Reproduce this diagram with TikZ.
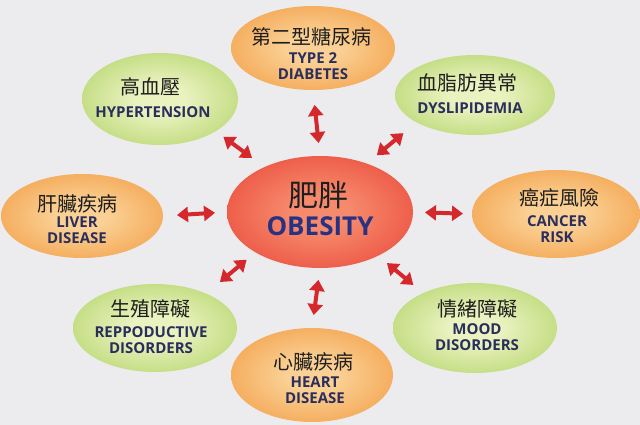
\documentclass[tikz,border=0pt]{standalone}
\usepackage{fontspec}
\newfontfamily\zhfont{Noto Sans CJK TC}
\newfontfamily\enfont{Open Sans}
\usetikzlibrary{arrows.meta,shapes.geometric}
\definecolor{bgcol}{RGB}{236,236,239}
\definecolor{orangein}{RGB}{250,208,148}
\definecolor{orangeout}{RGB}{238,130,26}
\definecolor{greenin}{RGB}{234,242,192}
\definecolor{greenout}{RGB}{148,196,56}
\definecolor{redin}{RGB}{246,138,108}
\definecolor{redout}{RGB}{228,36,28}
\definecolor{navy}{RGB}{42,46,92}
\definecolor{obeblue}{RGB}{40,50,130}
\definecolor{arrowred}{RGB}{212,40,45}
\definecolor{zhblack}{RGB}{30,30,30}
\pgfdeclareradialshading{orangeshade}{\pgfpointorigin}{color(0bp)=(orangein); color(8bp)=(orangein); color(48bp)=(orangeout); color(50bp)=(orangeout)}
\pgfdeclareradialshading{greenshade}{\pgfpointorigin}{color(0bp)=(greenin); color(8bp)=(greenin); color(48bp)=(greenout); color(50bp)=(greenout)}
\pgfdeclareradialshading{redshade}{\pgfpointorigin}{color(0bp)=(redin); color(8bp)=(redin); color(48bp)=(redout); color(50bp)=(redout)}
\tikzset{
	blob/.style={ellipse, inner sep=0pt, outer sep=0pt, shade},
	orangeblob/.style={blob, shading=orangeshade},
	greenblob/.style={blob, shading=greenshade},
	redblob/.style={blob, shading=redshade},
	zhtext/.style={font=\zhfont\fontsize{20}{22}\selectfont, text=zhblack, inner sep=0pt},
	entext/.style={font=\enfont\bfseries\fontsize{15}{16}\selectfont, text=navy, align=center, inner sep=0pt},
	link/.style={{Triangle[width=15pt,length=11pt]}-{Triangle[width=15pt,length=11pt]}, line width=4pt, draw=arrowred},
}

\begin{document}
\begin{tikzpicture}[x=1pt, y=-1pt]
		%%%%% START %%%%%
		
		\fill[bgcol] (0, 0) rectangle (640, 425);
		\useasboundingbox (0, 0) rectangle (640, 425);
		
		\node[redblob, minimum width=186pt, minimum height=112pt] (obesity) at (320, 212) {};
		\node[zhtext, font=\zhfont\fontsize{30}{32}\selectfont] (obesity-zh) at (318, 195) {肥胖};
		\node[entext, font=\enfont\bfseries\fontsize{26}{28}\selectfont, text=obeblue] (obesity-en) at (320, 226) {OBESITY};
		
		\node[orangeblob, minimum width=164pt, minimum height=84pt] (diab) at (313, 48) {};
		\node[zhtext] (diab-zh) at (311, 37) {第二型糖尿病};
		\node[entext] (diab-en) at (313, 66) {TYPE 2\\DIABETES};
		
		\node[greenblob, minimum width=156pt, minimum height=92pt] (hyp) at (160, 99) {};
		\node[zhtext] (hyp-zh) at (150, 87) {高血壓};
		\node[entext] (hyp-en) at (153, 112) {HYPERTENSION};
		
		\node[greenblob, minimum width=160pt, minimum height=80pt] (dys) at (475, 95) {};
		\node[zhtext] (dys-zh) at (467, 83) {血脂肪異常};
		\node[entext] (dys-en) at (470, 108) {DYSLIPIDEMIA};
		
		\node[orangeblob, minimum width=162pt, minimum height=84pt] (liver) at (82, 216) {};
		\node[zhtext] (liver-zh) at (77, 204) {肝臟疾病};
		\node[entext] (liver-en) at (77, 230) {LIVER\\DISEASE};
		
		\node[orangeblob, minimum width=168pt, minimum height=88pt] (cancer) at (556, 214) {};
		\node[zhtext] (cancer-zh) at (559, 198) {癌症風險};
		\node[entext] (cancer-en) at (557, 229) {CANCER\\RISK};
		
		\node[greenblob, minimum width=164pt, minimum height=88pt] (repro) at (155, 328) {};
		\node[zhtext] (repro-zh) at (150, 309) {生殖障礙};
		\node[entext] (repro-en) at (151, 340) {REPPODUCTIVE\\DISORDERS};
		
		\node[greenblob, minimum width=164pt, minimum height=90pt] (mood) at (475, 328) {};
		\node[zhtext] (mood-zh) at (477, 309) {情緒障礙};
		\node[entext] (mood-en) at (477, 337) {MOOD\\DISORDERS};
		
		\node[orangeblob, minimum width=162pt, minimum height=94pt] (heart) at (312, 375) {};
		\node[zhtext] (heart-zh) at (313, 362) {心臟疾病};
		\node[entext] (heart-en) at (315, 390) {HEART\\DISEASE};
		
		\draw[link, shorten <=13pt, shorten >=15pt] (obesity.90) -- (diab.-90);
		\draw[link, shorten <=15.5pt, shorten >=9.5pt] (obesity.141) -- (hyp.-30);
		\draw[link, shorten <=13pt, shorten >=17pt] (obesity.46) -- (dys.205);
		\draw[link, shorten <=12pt, shorten >=14pt] (obesity.180) -- (liver.0);
		\draw[link, shorten <=12pt, shorten >=9pt] (obesity.0) -- (cancer.180);
		\draw[link, shorten <=11.5pt, shorten >=18pt] (obesity.212) -- (repro.34);
		\draw[link, shorten <=11.5pt, shorten >=12.8pt] (obesity.-37) -- (mood.146);
		\draw[link, shorten <=12pt, shorten >=13pt] (obesity.-90) -- (heart.90);
		
		%%%%% END %%%%%
	\end{tikzpicture}
\end{document}
